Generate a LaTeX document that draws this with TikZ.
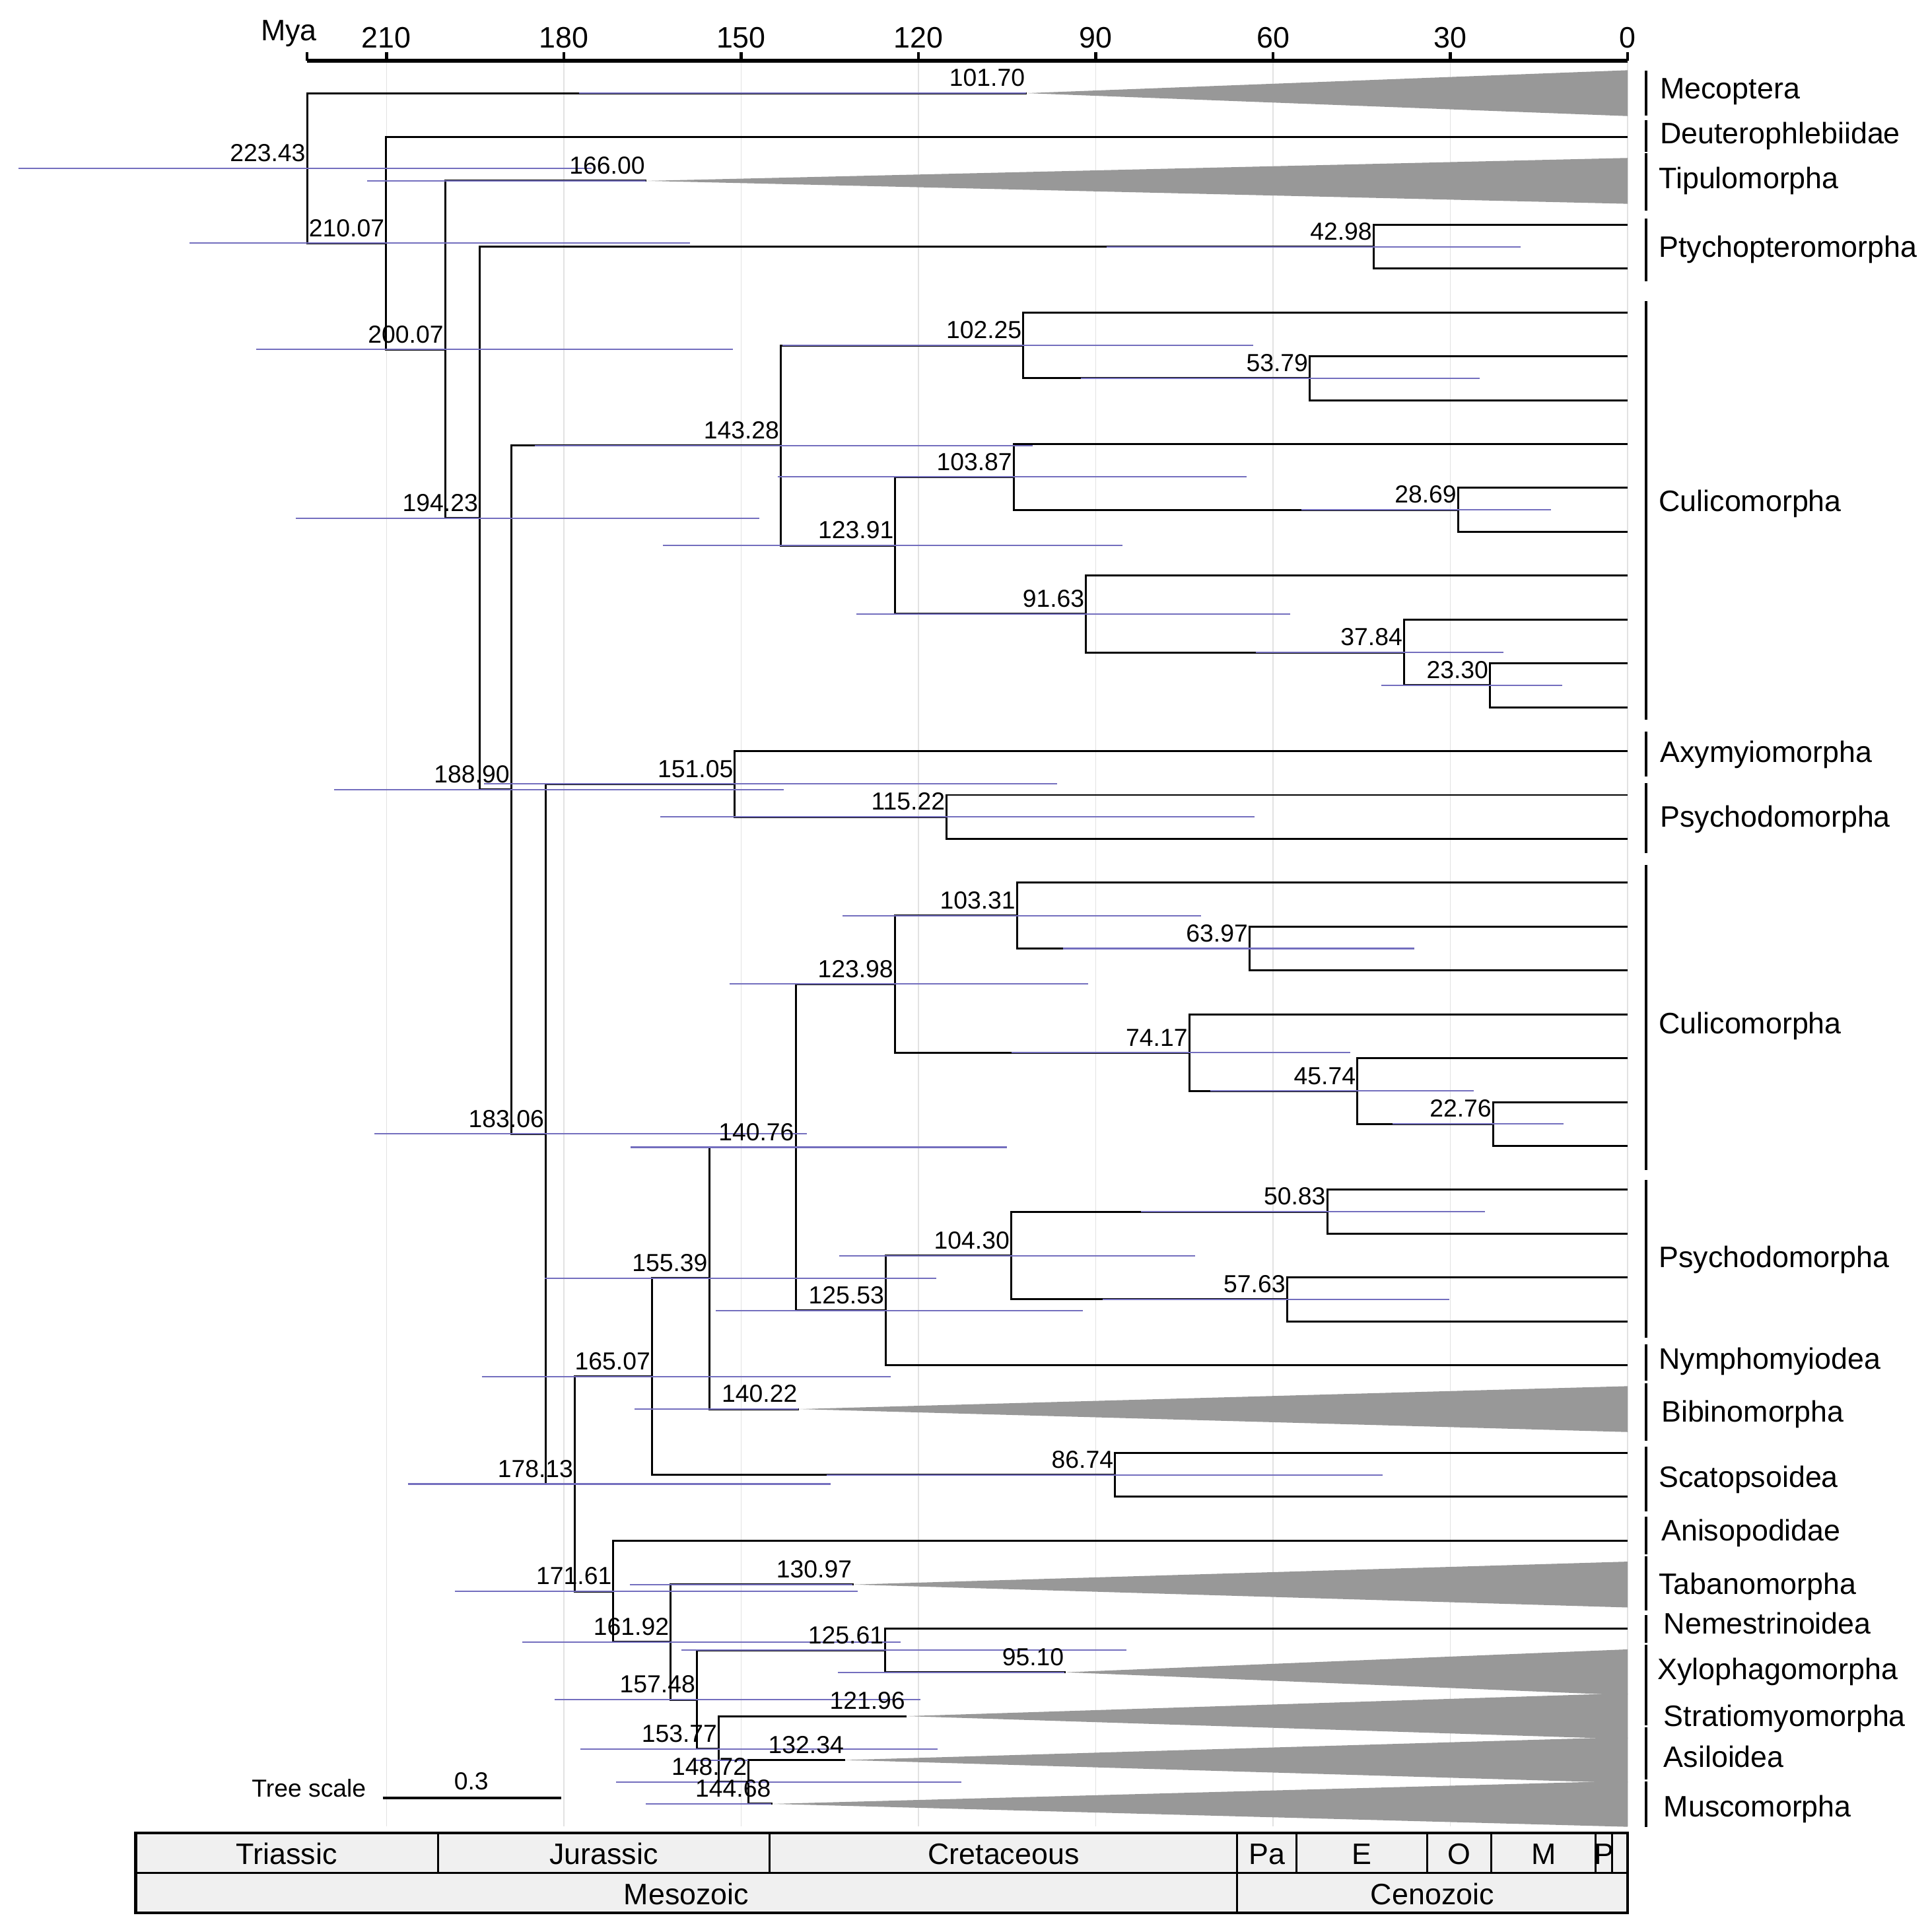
\documentclass[tikz,border=0pt]{standalone}
\usepackage{fontspec}
\setmainfont{Liberation Sans}
\usetikzlibrary{calc}
\definecolor{hpdc}{RGB}{115,110,190}
\definecolor{tric}{RGB}{152,152,152}
\definecolor{gridc}{RGB}{226,226,226}
\definecolor{geoc}{RGB}{240,240,240}
\pgfmathdeclarefunction{tx}{1}{\pgfmathparse{1321-4.797*#1}}
\newcommand{\br}[3]{\draw[branch] (#2) -| (#1) |- (#3);}
\newcommand{\hpdbar}[3]{\draw[hpd] (#2,0 |- #1) -- (#3,0 |- #1);}
\newcommand{\agelab}[2]{\node[age] (a#1) at ($(n#1)+(-1,-5.5)$) {#2};}
\newcommand{\collapse}[2]{\fill[tri] (#1) -- ($(#2)+(0,-18.6)$) -- ($(#2)+(0,18.6)$) -- cycle;}
\begin{document}
\begin{tikzpicture}[x=0.5pt,y=-0.5pt,
  branch/.style={line width=0.8pt,black},
  hpd/.style={line width=0.55pt,hpdc},
  tri/.style={fill=tric},
  gridline/.style={line width=0.4pt,gridc},
  age/.style={anchor=base east,inner sep=0pt,font=\fontsize{10}{12}\selectfont},
  taxon/.style={anchor=base west,inner sep=0pt,font=\fontsize{12}{14}\selectfont},
  ticklab/.style={anchor=base,inner sep=0pt,font=\fontsize{12}{14}\selectfont},
  geolab/.style={anchor=base,inner sep=0pt,font=\fontsize{12}{14}\selectfont},
  cladebar/.style={line width=1.2pt,black},
  geoline/.style={line width=0.8pt,black}]
\useasboundingbox (0,0) rectangle (1566,1568);

% grid
\foreach \t in {210,180,150,120,90,60,30,0}
  \draw[gridline] ({tx(\t)},50) -- ({tx(\t)},1482);

% axis
\draw[line width=1.6pt] ({tx(223.43)},49.5) -- (1321,49.5);
\foreach \t in {223.43,210,180,150,120,90,60,30,0}
  \draw[line width=1.2pt] ({tx(\t)},42.5) -- ({tx(\t)},49.5);
\foreach \t in {210,180,150,120,90,60,30,0}
  \node[ticklab] (tick\t) at ({tx(\t)},38.8) {\t};
\node[ticklab] (mya) at (234.5,33) {Mya};

% leaves
\foreach \i in {0,...,39}
  \coordinate (L\i) at (1321,{75.6+35.6*\i});

% internal nodes
\coordinate (n22343) at ({tx(223.43)},136.5);
\coordinate (n21007) at ({tx(210.07)},197.45);
\coordinate (n20007) at ({tx(200.07)},283.7);
\coordinate (n19423) at ({tx(194.23)},420.55);
\coordinate (n18890) at ({tx(188.90)},640.9);
\coordinate (n18306) at ({tx(183.06)},920.35);
\coordinate (n17813) at ({tx(178.13)},1204.4);
\coordinate (n17161) at ({tx(171.61)},1291.55);
\coordinate (n16600) at ({tx(166.00)},146.8);
\coordinate (n16507) at ({tx(165.07)},1117.2);
\coordinate (n16192) at ({tx(161.92)},1332.7);
\coordinate (n15748) at ({tx(157.48)},1379.45);
\coordinate (n15539) at ({tx(155.39)},1037.35);
\coordinate (n15377) at ({tx(153.77)},1419.5);
\coordinate (n15105) at ({tx(151.05)},636.3);
\coordinate (n14872) at ({tx(148.72)},1446.2);
\coordinate (n14468) at ({tx(144.68)},1464.0);
\coordinate (n14328) at ({tx(143.28)},361.5);
\coordinate (n14076) at ({tx(140.76)},931.1);
\coordinate (n14022) at ({tx(140.22)},1143.6);
\coordinate (n13234) at ({tx(132.34)},1428.4);
\coordinate (n13097) at ({tx(130.97)},1286.0);
\coordinate (n12561) at ({tx(125.61)},1339.4);
\coordinate (n12553) at ({tx(125.53)},1063.5);
\coordinate (n12398) at ({tx(123.98)},798.7);
\coordinate (n12391) at ({tx(123.91)},442.7);
\coordinate (n12196) at ({tx(121.96)},1392.8);
\coordinate (n11522) at ({tx(115.22)},663.0);
\coordinate (n10430) at ({tx(104.30)},1019.0);
\coordinate (n10387) at ({tx(103.87)},387.1);
\coordinate (n10331) at ({tx(103.31)},743.1);
\coordinate (n10225) at ({tx(102.25)},280.3);
\coordinate (n10170) at ({tx(101.70)},75.6);
\coordinate (n9510) at ({tx(95.10)},1357.2);
\coordinate (n9163) at ({tx(91.63)},498.35);
\coordinate (n8674) at ({tx(86.74)},1197.0);
\coordinate (n7417) at ({tx(74.17)},854.35);
\coordinate (n6397) at ({tx(63.97)},769.8);
\coordinate (n5763) at ({tx(57.63)},1054.6);
\coordinate (n5379) at ({tx(53.79)},307.0);
\coordinate (n5083) at ({tx(50.83)},983.4);
\coordinate (n4574) at ({tx(45.74)},885.5);
\coordinate (n4298) at ({tx(42.98)},200.2);
\coordinate (n3784) at ({tx(37.84)},529.5);
\coordinate (n2869) at ({tx(28.69)},413.8);
\coordinate (n2330) at ({tx(23.30)},556.2);
\coordinate (n2276) at ({tx(22.76)},912.2);

% collapsed clades
\collapse{n10170}{L0}
\collapse{n16600}{L2}
\collapse{n14022}{L30}
\collapse{n13097}{L34}
\collapse{n9510}{L36}
\collapse{n12196}{L37}
\collapse{n13234}{L38}
\collapse{n14468}{L39}

% branches
\br{n22343}{n10170}{n21007}
\br{n21007}{L1}{n20007}
\br{n20007}{n16600}{n19423}
\br{n19423}{n4298}{n18890}
\br{n4298}{L3}{L4}
\br{n18890}{n14328}{n18306}
\br{n14328}{n10225}{n12391}
\br{n10225}{L5}{n5379}
\br{n5379}{L6}{L7}
\br{n12391}{n10387}{n9163}
\br{n10387}{L8}{n2869}
\br{n2869}{L9}{L10}
\br{n9163}{L11}{n3784}
\br{n3784}{L12}{n2330}
\br{n2330}{L13}{L14}
\br{n18306}{n15105}{n17813}
\br{n15105}{L15}{n11522}
\br{n11522}{L16}{L17}
\br{n17813}{n16507}{n17161}
\br{n16507}{n15539}{n8674}
\br{n15539}{n14076}{n14022}
\br{n14076}{n12398}{n12553}
\br{n12398}{n10331}{n7417}
\br{n10331}{L18}{n6397}
\br{n6397}{L19}{L20}
\br{n7417}{L21}{n4574}
\br{n4574}{L22}{n2276}
\br{n2276}{L23}{L24}
\br{n12553}{n10430}{L29}
\br{n10430}{n5083}{n5763}
\br{n5083}{L25}{L26}
\br{n5763}{L27}{L28}
\br{n8674}{L31}{L32}
\br{n17161}{L33}{n16192}
\br{n16192}{n13097}{n15748}
\br{n15748}{n12561}{n15377}
\br{n12561}{L35}{n9510}
\br{n15377}{n12196}{n14872}
\br{n14872}{n13234}{n14468}

% HPD bars
\hpdbar{n22343}{15}{480}
\hpdbar{n21007}{154}{560}
\hpdbar{n20007}{208}{595}
\hpdbar{n19423}{240}{616}
\hpdbar{n18890}{271}{636}
\hpdbar{n18306}{304}{655}
\hpdbar{n17813}{331}{674}
\hpdbar{n17161}{369}{696}
\hpdbar{n16600}{298}{524}
\hpdbar{n16507}{391}{723}
\hpdbar{n16192}{424}{731}
\hpdbar{n15748}{450}{747}
\hpdbar{n15539}{442}{760}
\hpdbar{n15377}{471}{761}
\hpdbar{n15105}{393}{858}
\hpdbar{n14872}{500}{780}
\hpdbar{n14468}{524}{626}
\hpdbar{n14328}{434}{838}
\hpdbar{n14076}{512}{817}
\hpdbar{n14022}{515}{648}
\hpdbar{n13234}{564}{607}
\hpdbar{n13097}{511}{692}
\hpdbar{n12561}{553}{914}
\hpdbar{n12553}{581}{879}
\hpdbar{n12398}{592}{883}
\hpdbar{n12391}{538}{911}
\hpdbar{n11522}{536}{1018}
\hpdbar{n10430}{681}{970}
\hpdbar{n10387}{631}{1012}
\hpdbar{n10331}{684}{975}
\hpdbar{n10225}{635}{1017}
\hpdbar{n10170}{470}{833}
\hpdbar{n9510}{680}{864}
\hpdbar{n9163}{695}{1047}
\hpdbar{n8674}{671}{1122}
\hpdbar{n7417}{821}{1096}
\hpdbar{n6397}{863}{1148}
\hpdbar{n5763}{895}{1176}
\hpdbar{n5379}{877}{1201}
\hpdbar{n5083}{926}{1205}
\hpdbar{n4574}{982}{1196}
\hpdbar{n4298}{898}{1234}
\hpdbar{n3784}{1019}{1220}
\hpdbar{n2869}{1056}{1259}
\hpdbar{n2330}{1121}{1268}
\hpdbar{n2276}{1130}{1269}

% age labels
\agelab{22343}{223.43}
\agelab{21007}{210.07}
\agelab{20007}{200.07}
\agelab{19423}{194.23}
\agelab{18890}{188.90}
\agelab{18306}{183.06}
\agelab{17813}{178.13}
\agelab{17161}{171.61}
\agelab{16600}{166.00}
\agelab{16507}{165.07}
\agelab{16192}{161.92}
\agelab{15748}{157.48}
\agelab{15539}{155.39}
\agelab{15377}{153.77}
\agelab{15105}{151.05}
\agelab{14872}{148.72}
\agelab{14468}{144.68}
\agelab{14328}{143.28}
\agelab{14076}{140.76}
\agelab{14022}{140.22}
\agelab{13234}{132.34}
\agelab{13097}{130.97}
\agelab{12561}{125.61}
\agelab{12553}{125.53}
\agelab{12398}{123.98}
\agelab{12391}{123.91}
\agelab{12196}{121.96}
\agelab{11522}{115.22}
\agelab{10430}{104.30}
\agelab{10387}{103.87}
\agelab{10331}{103.31}
\agelab{10225}{102.25}
\agelab{10170}{101.70}
\agelab{9510}{95.10}
\agelab{9163}{91.63}
\agelab{8674}{86.74}
\agelab{7417}{74.17}
\agelab{6397}{63.97}
\agelab{5763}{57.63}
\agelab{5379}{53.79}
\agelab{5083}{50.83}
\agelab{4574}{45.74}
\agelab{4298}{42.98}
\agelab{3784}{37.84}
\agelab{2869}{28.69}
\agelab{2330}{23.30}
\agelab{2276}{22.76}

% clade bars and labels
\foreach \ya/\yb/\xl/\yl/\name [count=\k] in {
  57.4/93.8/1347/80/Mecoptera,
  97.6/123.4/1347/116.5/Deuterophlebiidae,
  124.4/170.9/1346/153/Tipulomorpha,
  177.6/228.3/1346/208.5/Ptychopteromorpha,
  244.6/584/1346/415/Culicomorpha,
  593.8/630.2/1347/618.5/Axymyiomorpha,
  635.3/692.4/1347/671/Psychodomorpha,
  701.8/949.6/1346/839/Culicomorpha,
  957.7/1085.7/1346/1028.5/Psychodomorpha,
  1090.8/1120.4/1346/1111/Nymphomyiodea,
  1122.4/1169.4/1348/1154/Bibinomorpha,
  1174.1/1226.5/1346/1207/Scatopsoidea,
  1231/1261.2/1348/1250.5/Anisopodidae,
  1263.2/1307/1346/1294/Tabanomorpha,
  1311/1333/1350/1326/Nemestrinoidea,
  1335/1400/1345/1363/Xylophagomorpha,
  1402/1444/1350/1401/Stratiomyomorpha,
  1446/1483/1350/1434.5/Asiloidea}
{
  \draw[cladebar] (1336,\ya) -- (1336,\yb);
  \node[taxon] (tax\k) at (\xl,\yl) {\name};
}
\node[taxon] (tax19) at (1350,1474.5) {Muscomorpha};

% tree scale
\node[anchor=base west,inner sep=0pt,font=\fontsize{10}{12}\selectfont] (tscale) at (204,1458.4) {Tree scale};
\draw[line width=1.1pt] (310.6,1459.4) -- (455.7,1459.4);
\node[anchor=base,inner sep=0pt,font=\fontsize{10}{12}\selectfont] (tscaleval) at (382.5,1452.3) {0.3};

% geological time bar
\fill[geoc] (110,1487.5) rectangle (1321,1552.5);
\foreach \x in {355.4,624.6,1004.2,1052.2,1158.1,1210.3,1295,1308.5}
  \draw[geoline] (\x,1487.5) -- (\x,1520);
\draw[geoline] (1004.2,1520) -- (1004.2,1552.5);
\draw[geoline] (110,1520) -- (1321,1520);
\draw[line width=1.2pt] (110,1487.5) rectangle (1321,1552.5);
\node[geolab] (gTr) at (232.7,1513) {Triassic};
\node[geolab] (gJ) at (490,1513) {Jurassic};
\node[geolab] (gK) at (814.5,1513) {Cretaceous};
\node[geolab] (gPa) at (1028.3,1513) {Pa};
\node[geolab] (gE) at (1105.3,1513) {E};
\node[geolab] (gO) at (1184.3,1513) {O};
\node[geolab] (gM) at (1252.8,1513) {M};
\node[geolab] (gP) at (1302,1513) {P};
\node[geolab] (gMes) at (557,1546) {Mesozoic};
\node[geolab] (gCen) at (1162.5,1546) {Cenozoic};
\end{tikzpicture}
\end{document}
